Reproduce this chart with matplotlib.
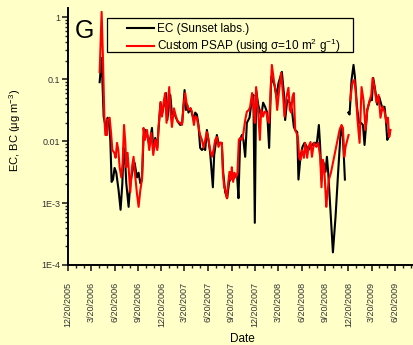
import datetime as dt
import numpy as np
import matplotlib
matplotlib.use('Agg')
import matplotlib.pyplot as plt
import matplotlib.dates as mdates
from matplotlib.patches import Rectangle
from matplotlib.ticker import LogLocator, FixedLocator, FuncFormatter, NullFormatter

plt.rcParams['font.family'] = ['Liberation Sans', 'DejaVu Sans']
plt.rcParams['mathtext.fontset'] = 'custom'
plt.rcParams['mathtext.rm'] = 'Liberation Sans'
plt.rcParams['mathtext.it'] = 'Liberation Sans:italic'

# sample times as decimal years, concentrations in ug m-3 (nan = no data)
ec_year = [2006.306, 2006.327, 2006.349, 2006.377, 2006.391, 2006.406, 2006.420, 2006.434,
           2006.449, 2006.466, 2006.484, 2006.509, 2006.530, 2006.549, 2006.562, 2006.577,
           2006.591, 2006.616, 2006.634, 2006.659, 2006.680, 2006.706, 2006.723, 2006.741,
           2006.759, 2006.776, 2006.794, 2006.816, 2006.837, 2006.866, 2006.880, 2006.901,
           2006.923, 2006.937, 2006.958, 2006.973, 2006.994, 2007.016, 2007.030, 2007.048,
           2007.062, 2007.080, 2007.101, 2007.123, 2007.144, 2007.169, 2007.190, 2007.215,
           2007.230, 2007.243, 2007.257, 2007.279, 2007.297, 2007.315, 2007.329, 2007.347,
           2007.364, 2007.382, 2007.401, 2007.418, 2007.436, 2007.454, 2007.471, 2007.489,
           2007.518, 2007.532, 2007.561, 2007.578, 2007.596, 2007.614, 2007.628, 2007.650,
           2007.671, 2007.692, 2007.714, 2007.735, 2007.757, 2007.778, 2007.792, 2007.810,
           2007.828, 2007.845, 2007.864, 2007.882, 2007.910, 2007.935, 2007.952, 2007.967,
           2007.981, 2008.003, 2008.035, 2008.056, 2008.077, 2008.099, 2008.120, 2008.142,
           2008.177, 2008.198, 2008.220, 2008.256, 2008.277, 2008.291, 2008.313, 2008.341,
           2008.363, 2008.384, 2008.398, 2008.420, 2008.433, 2008.455, 2008.476, 2008.498,
           2008.523, 2008.540, 2008.562, 2008.598, 2008.630, 2008.651, 2008.665, 2008.679,
           2008.701, 2008.722, 2008.737, 2008.751, 2008.801, 2008.829, 2008.858, 2008.887,
           2008.908, 2008.929, 2008.947, 2008.965, 2008.979, 2009.000, 2009.021, 2009.036,
           2009.058, 2009.079, 2009.101, 2009.122, 2009.139, 2009.168, 2009.197, 2009.218,
           2009.232, 2009.253, 2009.275, 2009.296, 2009.325, 2009.353, 2009.368, 2009.382,
           2009.396, 2009.410]
ec_val = [0.09, 0.222, 0.025, 0.0152, 0.024, 0.0198, 0.0105, 0.0022,
          0.0024, 0.0037, 0.0031, 0.0016, 0.00078, 0.0021, 0.0078, 0.0056,
          0.0021, 0.00087, 0.0021, 0.0034, 0.0045, 0.0026, 0.0031, 0.0021,
          0.0024, 0.0117, 0.0152, 0.0126, 0.0087, 0.0164, 0.0072, 0.0113,
          0.0078, 0.0164, 0.042, 0.027, 0.039, 0.060, 0.022, 0.039,
          0.056, 0.027, 0.029, 0.024, 0.0205, 0.0183, 0.0198, 0.067,
          0.032, 0.039, 0.029, 0.034, 0.027, 0.022, 0.029, 0.027,
          0.0183, 0.0078, 0.0072, 0.0078, 0.0072, 0.0152, 0.0105, 0.0065,
          0.0018, 0.0060, 0.0126, 0.0094, 0.0094, 0.0094, 0.0032, 0.0015,
          0.0012, 0.0022, 0.0026, 0.0024, 0.0029, 0.0027, 0.0012, 0.0105,
          0.0126, 0.0105, 0.0056, 0.0198, 0.024, 0.046, 0.056, 0.00048,
          0.067, 0.039, 0.025, 0.042, 0.036, 0.029, 0.0078, 0.109,
          0.081, 0.052, 0.087, 0.132, 0.060, 0.022, 0.046, 0.042,
          0.032, 0.0170, 0.0152, 0.0141, 0.0024, 0.0056, 0.0081, 0.0094,
          0.0081, 0.0072, 0.0081, 0.0094, 0.0094, 0.0183, 0.0081, 0.0024,
          0.0045, 0.0032, 0.0056, 0.0031, 0.00016, 0.0006, 0.0034, 0.0170,
          0.0117, 0.0024, np.nan, 0.029, 0.027, 0.098, 0.171, 0.109,
          0.036, 0.0198, 0.0198, 0.0183, 0.0087, 0.032, 0.046, 0.046,
          0.105, 0.067, 0.039, 0.052, 0.036, 0.036, 0.022, 0.0105,
          0.0117, 0.0136]

bc_year = [2006.306, 2006.327, 2006.342, 2006.356, 2006.367, 2006.385, 2006.391, 2006.413,
           2006.428, 2006.442, 2006.463, 2006.477, 2006.492, 2006.506, 2006.520, 2006.538,
           2006.552, 2006.567, 2006.581, 2006.591, 2006.605, 2006.623, 2006.634, 2006.652,
           2006.669, 2006.688, 2006.706, 2006.723, 2006.741, 2006.759, 2006.776, 2006.791,
           2006.813, 2006.837, 2006.859, 2006.880, 2006.901, 2006.923, 2006.937, 2006.958,
           2006.973, 2006.994, 2007.008, 2007.022, 2007.037, 2007.051, 2007.065, 2007.080,
           2007.101, 2007.123, 2007.144, 2007.169, 2007.187, 2007.208, 2007.222, 2007.236,
           2007.257, 2007.279, 2007.294, 2007.315, 2007.329, 2007.347, 2007.364, 2007.382,
           2007.401, 2007.418, 2007.436, 2007.454, 2007.471, 2007.489, 2007.508, 2007.525,
           2007.543, 2007.561, 2007.578, 2007.596, 2007.614, 2007.625, 2007.639, 2007.653,
           2007.668, 2007.682, 2007.696, 2007.711, 2007.721, 2007.735, 2007.749, 2007.764,
           2007.781, 2007.796, 2007.810, 2007.831, 2007.845, 2007.864, 2007.882, 2007.903,
           2007.917, 2007.938, 2007.952, 2007.967, 2007.981, 2008.006, 2008.021, 2008.035,
           2008.056, 2008.070, 2008.091, 2008.106, 2008.120, 2008.149, 2008.170, 2008.192,
           2008.206, 2008.227, 2008.248, 2008.270, 2008.284, 2008.305, 2008.326, 2008.341,
           2008.355, 2008.369, 2008.384, 2008.398, 2008.412, 2008.427, 2008.441, 2008.455,
           2008.470, 2008.491, 2008.505, 2008.526, 2008.540, 2008.562, 2008.577, 2008.598,
           2008.623, 2008.644, 2008.665, 2008.679, 2008.694, 2008.708, 2008.730, 2008.743,
           2008.758, 2008.780, 2008.808, 2008.844, 2008.872, 2008.893, 2008.908, 2008.922,
           2008.936, 2008.968, 2008.977, 2008.986, 2009.008, 2009.029, 2009.043, 2009.064,
           2009.086, 2009.107, 2009.128, 2009.150, 2009.168, 2009.189, 2009.211, 2009.225,
           2009.246, 2009.267, 2009.289, 2009.310, 2009.331, 2009.353, 2009.374, 2009.389,
           2009.403, 2009.417]
bc_val = [0.131, 1.23, 0.206, 0.025, 0.0126, 0.0126, 0.022, 0.024,
          0.0136, 0.0072, 0.0065, 0.0054, 0.0094, 0.0072, 0.0038, 0.0026,
          0.0045, 0.0183, 0.0094, 0.0038, 0.0065, 0.0026, 0.0015, 0.0038,
          0.0056, 0.0026, 0.0014, 0.00087, 0.0016, 0.0024, 0.0164, 0.0105,
          0.0152, 0.0072, 0.0136, 0.0060, 0.0105, 0.0072, 0.0170, 0.043,
          0.025, 0.046, 0.060, 0.0198, 0.042, 0.075, 0.029, 0.0170,
          0.034, 0.025, 0.0205, 0.0198, 0.0183, 0.042, 0.060, 0.042,
          0.032, 0.034, 0.030, 0.0183, 0.025, 0.024, 0.0170, 0.0126,
          0.0105, 0.0078, 0.0105, 0.0141, 0.0105, 0.0072, 0.0056, 0.0072,
          0.0105, 0.0117, 0.0081, 0.0094, 0.0094, 0.0031, 0.0018, 0.0016,
          0.0012, 0.0021, 0.0032, 0.0024, 0.0038, 0.0022, 0.0031, 0.0026,
          0.0031, 0.0105, 0.0113, 0.0105, 0.0136, 0.022, 0.030, 0.032,
          0.036, 0.060, 0.036, 0.0198, 0.075, 0.025, 0.0105, 0.032,
          0.025, 0.030, 0.029, 0.022, 0.0198, 0.171, 0.098, 0.060,
          0.032, 0.067, 0.127, 0.052, 0.025, 0.052, 0.073, 0.032,
          0.029, 0.052, 0.060, 0.0152, 0.0136, 0.0117, 0.0054, 0.0050,
          0.0072, 0.0054, 0.0094, 0.0054, 0.0081, 0.0097, 0.0056, 0.0094,
          0.0081, 0.0094, 0.0056, 0.0018, 0.0050, 0.0038, 0.00087, 0.0015,
          0.0024, 0.0031, 0.0050, 0.0094, 0.0152, 0.0183, 0.0164, 0.0056,
          0.0081, 0.0126, np.nan, 0.046, 0.087, 0.098, 0.067, 0.022,
          0.0094, 0.075, 0.046, 0.0152, 0.032, 0.043, 0.056, 0.105,
          0.075, 0.042, 0.056, 0.024, 0.036, 0.030, 0.0198, 0.024,
          0.0117, 0.0152]

ytick_vals = [1e-4, 1e-3, 1e-2, 1e-1, 1]
ytick_text = ['1E-4', '1E-3', '0.01', '0.1', '1']


def to_dates(years):
    out = []
    for y in years:
        yr = int(y)
        start = dt.datetime(yr, 1, 1)
        n = (dt.datetime(yr + 1, 1, 1) - start).days
        out.append(start + dt.timedelta(days=(y - yr) * n))
    return out


bg = '#ffffc8'
fig = plt.figure(figsize=(4.14, 3.45), dpi=100, facecolor=bg)
ax = fig.add_axes([68 / 414, 1 - 265 / 345, 1 - 68 / 414, 257 / 345])
ax.set_facecolor(bg)

ax.plot(to_dates(ec_year), ec_val, color='black', lw=1.5, label='EC (Sunset labs.)')
ax.plot(to_dates(bc_year), bc_val, color='red', lw=1.5,
        label='Custom PSAP (using σ=10 m$^2$ g$^{-1}$)')

ax.set_yscale('log')
ax.set_ylim(1e-4, 1.42)
ax.set_xlim(dt.datetime(2005, 12, 20), dt.datetime(2009, 9, 2))

ax.yaxis.set_major_locator(FixedLocator(ytick_vals))
ax.set_yticklabels(ytick_text)
ax.yaxis.set_minor_locator(LogLocator(base=10, subs=np.arange(2, 10)))
ax.yaxis.set_minor_formatter(NullFormatter())

ax.xaxis.set_major_locator(mdates.MonthLocator(bymonth=[3, 6, 9, 12], bymonthday=20))
ax.xaxis.set_minor_locator(mdates.MonthLocator(bymonthday=20))


def fmt_date(x, pos):
    d = mdates.num2date(x)
    return f'{d.month}/{d.day}/{d.year}'


ax.xaxis.set_major_formatter(FuncFormatter(fmt_date))

for s in ['top', 'right']:
    ax.spines[s].set_visible(False)
for s in ['left', 'bottom']:
    ax.spines[s].set_linewidth(1.4)

ax.tick_params(axis='both', which='major', direction='out', length=4, width=1.2,
               labelsize=6.5, color='#222222', labelcolor='#333333')
ax.tick_params(axis='both', which='minor', direction='out', length=2.5, width=1.0,
               color='#222222')
ax.tick_params(axis='x', which='major', pad=8)
ax.tick_params(axis='y', which='major', pad=1.5)
plt.setp(ax.get_xticklabels(), rotation=90)

fig.text(15 / 414, 1 - 130 / 345, 'EC, BC (μg m$^{-3}$)', rotation=90,
         ha='center', va='center', fontsize=8)
fig.text(242 / 414, 1 - 339 / 345, 'Date', ha='center', va='center', fontsize=8.5)
fig.text(75 / 414, 1 - 31 / 345, 'G', ha='left', va='center', fontsize=18)

ax.legend(loc='upper left', bbox_to_anchor=(127 / 414, 1 - 23 / 345),
          bbox_transform=fig.transFigure, frameon=False, fontsize=8.5,
          borderpad=0, borderaxespad=0, handlelength=2.3, handletextpad=0.2,
          labelspacing=0.15)
fig.patches.append(Rectangle((106.7 / 414, 1 - 52.3 / 345), 246.3 / 414, 34 / 345,
                             transform=fig.transFigure, fill=False,
                             edgecolor='black', lw=0.9, zorder=5))

fig.savefig('out.png', dpi=100, facecolor=bg)
